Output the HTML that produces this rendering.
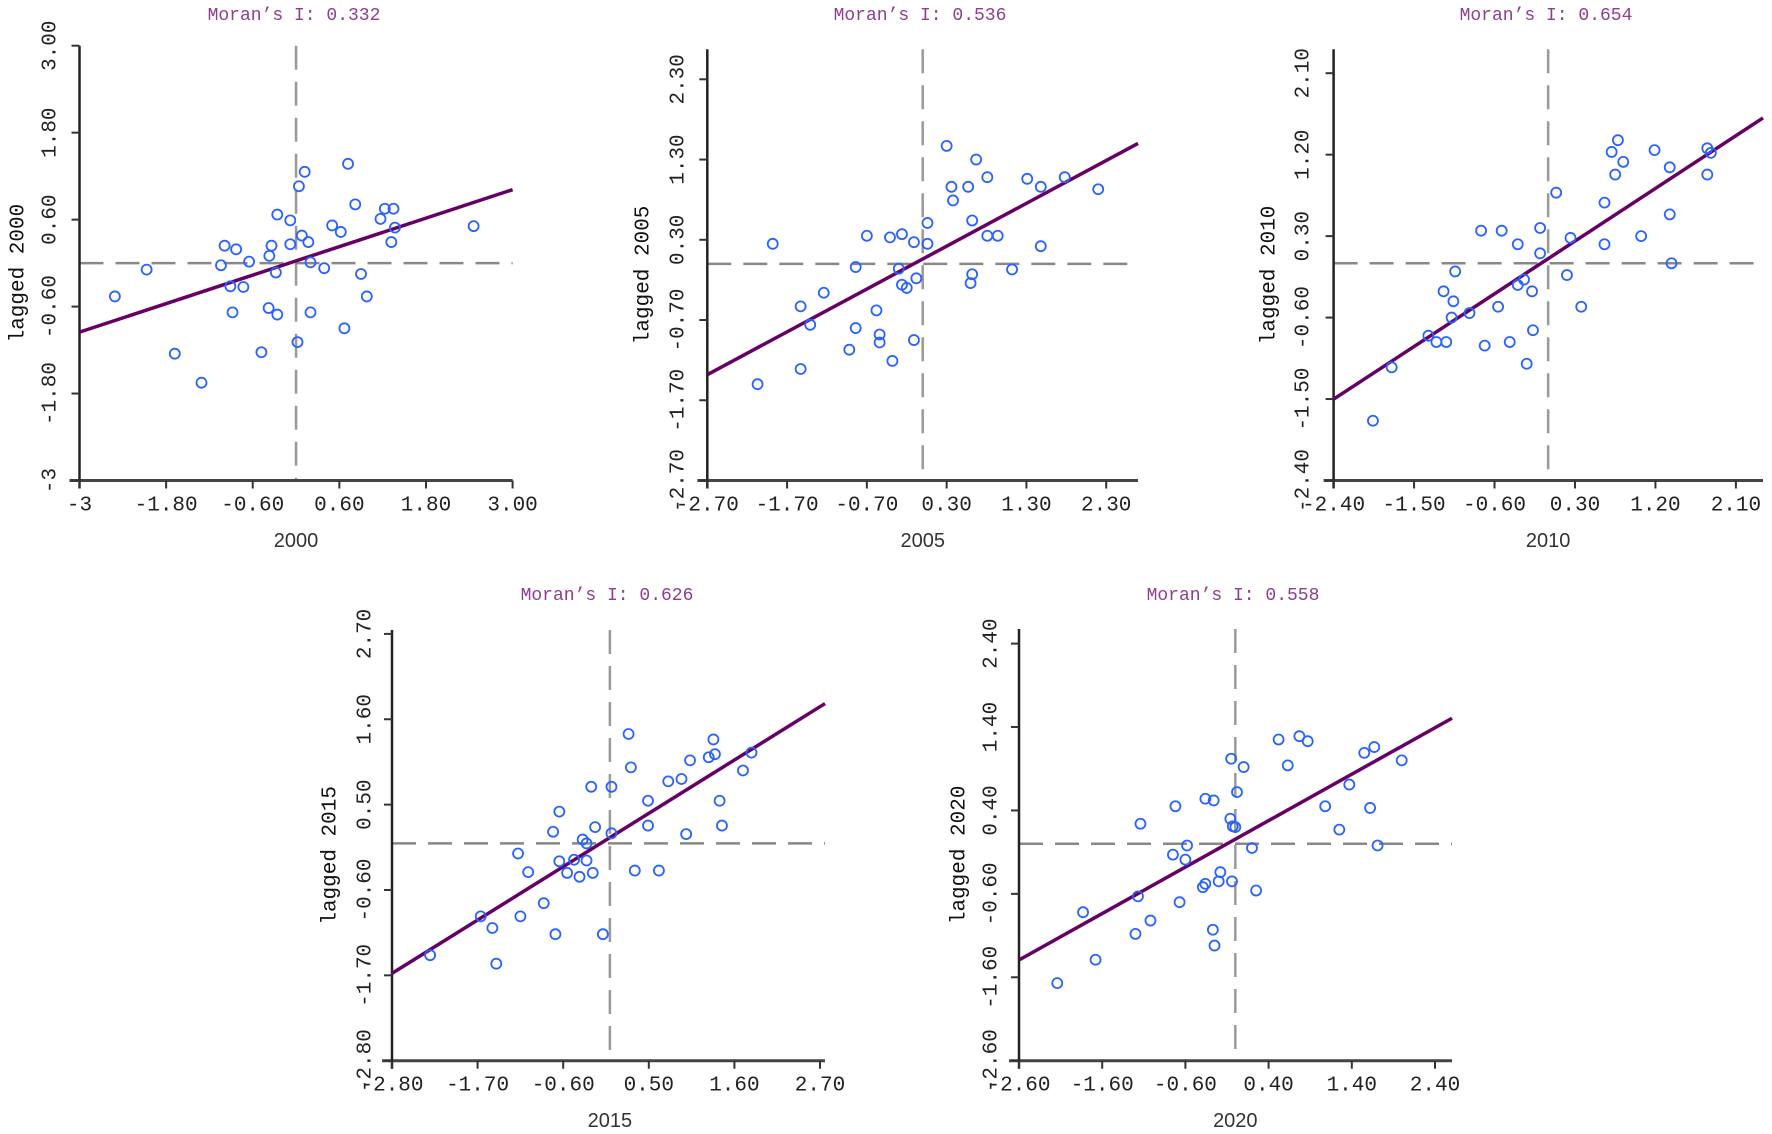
<!DOCTYPE html>
<html><head><meta charset="utf-8">
<style>
html,body{margin:0;padding:0;background:#fff;}
svg{display:block;}
.tk{font-family:"Liberation Mono","Noto Sans CJK SC",monospace;font-size:21px;fill:#222;}
.tt{font-family:"Liberation Mono","Noto Sans CJK SC",monospace;font-size:18px;fill:#8e3e8e;}
.at{font-family:"Liberation Sans","Noto Sans CJK SC",sans-serif;font-size:20px;fill:#333;}
.yt{font-family:"Liberation Mono","Noto Sans CJK SC",monospace;font-size:21px;fill:#111;}
</style></head>
<body>
<svg id="chart" width="1772" height="1134" viewBox="0 0 1772 1134" xmlns="http://www.w3.org/2000/svg"></svg>
<script>
// ---- data ----
const years = ["2000","2005","2010","2015","2020"];
const moranValues = ["0.332","0.536","0.654","0.626","0.558"];
const xTicks2000 = ["-3","-1.80","-0.60","0.60","1.80","3.00"];
const yTicks2000 = ["-3","-1.80","-0.60","0.60","1.80","3.00"];
const xTicks2005 = ["-2.70","-1.70","-0.70","0.30","1.30","2.30"];
const yTicks2005 = ["-2.70","-1.70","-0.70","0.30","1.30","2.30"];
const xTicks2010 = ["-2.40","-1.50","-0.60","0.30","1.20","2.10"];
const yTicks2010 = ["-2.40","-1.50","-0.60","0.30","1.20","2.10"];
const xTicks2015 = ["-2.80","-1.70","-0.60","0.50","1.60","2.70"];
const yTicks2015 = ["-2.80","-1.70","-0.60","0.50","1.60","2.70"];
const xTicks2020 = ["-2.60","-1.60","-0.60","0.40","1.40","2.40"];
const yTicks2020 = ["-2.60","-1.60","-0.60","0.40","1.40","2.40"];

const x2000 = [-2.51,-2.07,-1.68,-1.31,-1.04,-0.99,-0.83,-0.91,-0.88,-0.73,-0.65,-0.48,-0.38,-0.26,-0.37,-0.34,-0.28,-0.26,-0.08,-0.08,0.02,0.04,0.12,0.08,0.17,0.20,0.20,0.39,0.50,0.62,0.67,0.72,0.82,0.90,0.98,1.17,1.23,1.35,1.37,1.32,2.46];
const y2000 = [-0.46,-0.09,-1.25,-1.65,-0.03,0.24,0.19,-0.32,-0.68,-0.33,0.02,-1.23,-0.62,-0.71,0.10,0.24,-0.13,0.67,0.59,0.26,-1.09,1.06,1.26,0.38,0.29,0.01,-0.68,-0.07,0.52,0.43,-0.90,1.37,0.81,-0.15,-0.46,0.61,0.75,0.75,0.49,0.29,0.51];
const x2005 = [-2.07,-1.88,-1.53,-1.53,-1.41,-1.24,-0.92,-0.84,-0.84,-0.70,-0.58,-0.54,-0.54,-0.41,-0.38,-0.30,-0.26,-0.26,-0.20,-0.11,-0.11,-0.08,0.06,0.06,0.30,0.36,0.38,0.57,0.60,0.62,0.62,0.67,0.81,0.81,0.94,1.12,1.31,1.48,1.48,1.78,2.20];
const y2005 = [-1.50,0.25,-0.53,-1.31,-0.76,-0.36,-1.07,-0.04,-0.80,0.35,-0.58,-0.88,-0.98,0.33,-1.21,-0.06,0.37,-0.26,-0.30,0.27,-0.95,-0.18,0.51,0.25,1.47,0.96,0.79,0.96,-0.24,-0.13,0.54,1.30,1.08,0.35,0.35,-0.07,1.06,0.96,0.22,1.08,0.93];
const x2010 = [-1.96,-1.75,-1.34,-1.25,-1.14,-1.17,-1.08,-1.06,-1.04,-0.88,-0.75,-0.71,-0.56,-0.52,-0.43,-0.34,-0.34,-0.27,-0.24,-0.18,-0.17,-0.09,-0.09,0.09,0.21,0.25,0.37,0.63,0.63,0.71,0.75,0.78,0.84,1.04,1.19,1.36,1.36,1.38,1.78,1.78,1.82];
const y2010 = [-1.74,-1.15,-0.80,-0.87,-0.87,-0.31,-0.60,-0.42,-0.09,-0.55,0.36,-0.91,-0.48,0.36,-0.87,0.21,-0.24,-0.18,-1.11,-0.31,-0.74,0.11,0.39,0.78,-0.13,0.28,-0.48,0.67,0.21,1.23,0.98,1.36,1.12,0.30,1.25,1.06,0.54,0.00,1.27,0.98,1.22];
const x2015 = [-2.31,-1.66,-1.51,-1.46,-1.18,-1.15,-1.05,-0.85,-0.73,-0.70,-0.65,-0.65,-0.55,-0.46,-0.39,-0.35,-0.30,-0.30,-0.24,-0.22,-0.19,-0.09,0.02,0.02,0.24,0.27,0.32,0.49,0.49,0.63,0.75,0.92,0.98,1.03,1.27,1.33,1.35,1.41,1.44,1.71,1.82];
const y2015 = [-1.44,-0.94,-1.09,-1.55,-0.13,-0.94,-0.37,-0.77,0.15,-1.17,0.41,-0.23,-0.38,-0.21,-0.43,0.05,0.00,-0.22,0.73,-0.38,0.21,-1.17,0.73,0.13,1.41,0.98,-0.35,0.55,0.23,-0.35,0.80,0.83,0.12,1.07,1.11,1.34,1.15,0.55,0.23,0.94,1.17];
const x2020 = [-2.14,-1.83,-1.68,-1.20,-1.17,-1.14,-1.02,-0.75,-0.72,-0.67,-0.60,-0.58,-0.39,-0.36,-0.36,-0.27,-0.26,-0.25,-0.20,-0.18,-0.06,-0.05,-0.04,-0.03,0.00,0.02,0.10,0.20,0.25,0.52,0.63,0.77,0.87,1.08,1.25,1.37,1.55,1.62,1.67,1.71,2.00];
const y2020 = [-1.67,-0.82,-1.39,-1.08,-0.63,0.24,-0.92,-0.13,0.45,-0.70,-0.19,-0.02,-0.52,-0.48,0.54,-1.03,0.52,-1.22,-0.45,-0.34,0.30,1.02,-0.45,0.21,0.20,0.62,0.92,-0.05,-0.56,1.25,0.94,1.29,1.23,0.45,0.17,0.71,1.09,0.43,1.16,-0.02,1.00];

// ---- layout (pixel geometry, not data) ----
const panels = [
 {xs:x2000, ys:y2000, xt:xTicks2000, yt:yTicks2000, px0:79.5, px1:512.6, py0:480.5, py1:45.7, right:512.6, top:45.7, xlab:51, ytl:19, tx:294, ty:16, xly:506, xty:541},
 {xs:x2005, ys:y2005, xt:xTicks2005, yt:yTicks2005, px0:707.3, px1:1106.2, py0:480.5, py1:79.3, right:1138, top:49.3, xlab:679, ytl:644, tx:920, ty:16, xly:506, xty:541},
 {xs:x2010, ys:y2010, xt:xTicks2010, yt:yTicks2010, px0:1333.6, px1:1735.9, py0:480.5, py1:73.2, right:1763, top:49.3, xlab:1304, ytl:1270, tx:1546, ty:16, xly:506, xty:541},
 {xs:x2015, ys:y2015, xt:xTicks2015, yt:yTicks2015, px0:392, px1:820, py0:1060.7, py1:633.9, right:825, top:630, xlab:366, ytl:331, tx:607, ty:596, xly:1086, xty:1121},
 {xs:x2020, ys:y2020, xt:xTicks2020, yt:yTicks2020, px0:1019, px1:1435, py0:1060.7, py1:643.6, right:1452, top:629, xlab:992, ytl:960, tx:1233, ty:596, xly:1086, xty:1121}
];

const NS = "http://www.w3.org/2000/svg";
const svg = document.getElementById("chart");
function mk(tag, attrs, parent){
  const e = document.createElementNS(NS, tag);
  for (const k in attrs) e.setAttribute(k, attrs[k]);
  (parent||svg).appendChild(e);
  return e;
}

panels.forEach((p, i) => {
  const yr = years[i];
  const g = mk("g", {});
  
  
  const xmin = parseFloat(p.xt[0]), xmax = parseFloat(p.xt[p.xt.length-1]);
  const ymin = parseFloat(p.yt[0]), ymax = parseFloat(p.yt[p.yt.length-1]);
  const sx = v => p.px0 + (v - xmin) / (xmax - xmin) * (p.px1 - p.px0);
  const sy = v => p.py0 - (v - ymin) / (ymax - ymin) * (p.py0 - p.py1);
  const xRightVal = xmin + (p.right - p.px0) / (p.px1 - p.px0) * (xmax - xmin);

  const t = mk("text", {x:p.tx, y:p.ty, "text-anchor":"middle", "dominant-baseline":"central", class:"tt"}, g);
  t.textContent = "Moran\u2019s I: " + moranValues[i];
  
  

  const vx = sx(0), hy = sy(0);
  const vl = mk("line", {x1:vx, y1:p.top, x2:vx, y2:p.py0, stroke:"#999", "stroke-width":2.5, "stroke-dasharray":"24,12"}, g);
  
  
  const hl = mk("line", {x1:p.px0, y1:hy, x2:p.right, y2:hy, stroke:"#888", "stroke-width":2.5, "stroke-dasharray":"24,12"}, g);
  
  

  const xa = mk("line", {x1:p.px0-10, y1:p.py0, x2:p.right, y2:p.py0, stroke:"#444", "stroke-width":3}, g);
  
  
  const ya = mk("line", {x1:p.px0, y1:p.top, x2:p.px0, y2:p.py0+8, stroke:"#222", "stroke-width":2.5}, g);
  
  

  p.xt.forEach(lbl => {
    const x = sx(parseFloat(lbl));
    const tk = mk("line", {x1:x, y1:p.py0, x2:x, y2:p.py0+8, stroke:"#333", "stroke-width":2}, g);
    
    
    const tl = mk("text", {x:x, y:p.xly, "text-anchor":"middle", "dominant-baseline":"central", class:"tk"}, g);
    tl.textContent = lbl;
    
    
  });
  p.yt.forEach(lbl => {
    const y = sy(parseFloat(lbl));
    const tk = mk("line", {x1:p.px0-8, y1:y, x2:p.px0, y2:y, stroke:"#333", "stroke-width":2}, g);
    
    
    const tl = mk("text", {x:p.xlab, y:y, "text-anchor":"middle", "dominant-baseline":"central", class:"tk", transform:"rotate(-90 "+p.xlab+" "+y+")"}, g);
    tl.textContent = lbl;
    
    
  });

  const xt = mk("text", {x:vx, y:p.xty, "text-anchor":"middle", "dominant-baseline":"central", class:"at"}, g);
  xt.textContent = yr;
  
  
  const yc = (p.top + p.py0) / 2 + 10;
  const ytt = mk("text", {x:p.ytl, y:yc, "text-anchor":"middle", "dominant-baseline":"central", class:"yt", transform:"rotate(-90 "+p.ytl+" "+yc+")"}, g);
  ytt.textContent = "lagged " + yr;
  
  

  const n = p.xs.length;
  let mx=0,my=0; for (let k=0;k<n;k++){mx+=p.xs[k];my+=p.ys[k];} mx/=n; my/=n;
  let sxy=0,sxx=0; for (let k=0;k<n;k++){sxy+=(p.xs[k]-mx)*(p.ys[k]-my); sxx+=(p.xs[k]-mx)**2;}
  const b = sxy/sxx, a = my - b*mx;
  const rl = mk("line", {x1:sx(xmin), y1:sy(a+b*xmin), x2:sx(xRightVal), y2:sy(a+b*xRightVal), stroke:"#660066", "stroke-width":3.5}, g);
  
  

  for (let k=0;k<n;k++){
    const c = mk("circle", {cx:sx(p.xs[k]), cy:sy(p.ys[k]), r:5, fill:"none", stroke:"#2a62ff", "stroke-width":1.8}, g);
    
    
  }
});
</script>
</body></html>
